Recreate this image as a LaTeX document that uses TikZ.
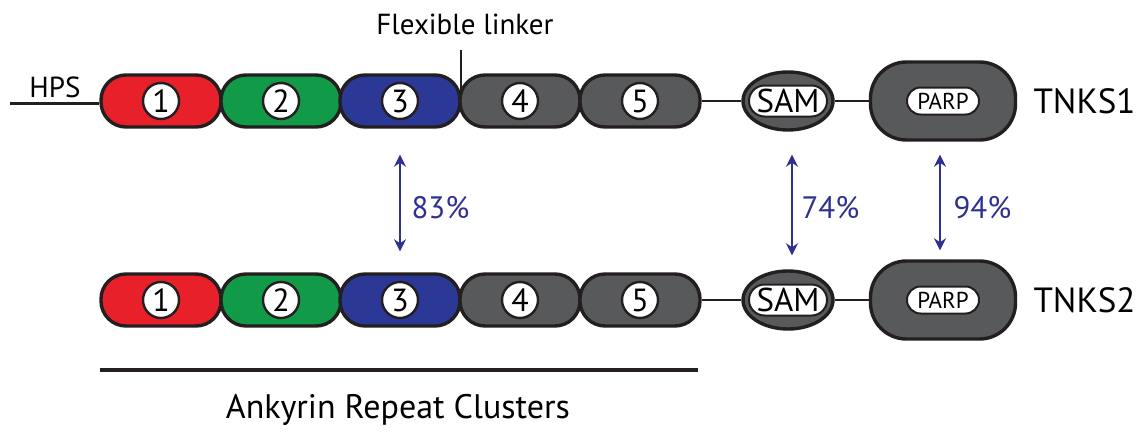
\documentclass[tikz,border=0pt]{standalone}
\usepackage{fontspec}
\setmainfont{PT Sans}
\usetikzlibrary{shapes.geometric,shapes.misc,arrows.meta}
\definecolor{cRed}{HTML}{E8202A}
\definecolor{cGreen}{HTML}{119A48}
\definecolor{cBlue}{HTML}{2B3896}
\definecolor{cGray}{HTML}{58595B}
\definecolor{cLine}{HTML}{231F20}
\definecolor{cArrow}{HTML}{2E3192}
\tikzset{
  x=1pt,y=-1pt,
  pill/.style={draw=cLine,line width=3.4pt,rounded corners=25pt,minimum width=120pt,minimum height=52pt,inner sep=0pt},
  num/.style={circle,draw=cLine,line width=2.4pt,fill=white,minimum size=36pt,inner sep=0pt,font=\fontsize{32}{32}\selectfont},
  sam/.style={ellipse,draw=cLine,line width=3.4pt,fill=cGray,minimum width=90pt,minimum height=58pt,inner sep=0pt},
  saminner/.style={rounded rectangle,draw=cLine,line width=2pt,fill=white,minimum width=78pt,minimum height=31pt,inner sep=0pt,font=\fontsize{33}{33}\selectfont},
  parp/.style={draw=cLine,line width=3.4pt,fill=cGray,rounded corners=36pt,minimum width=145pt,minimum height=78pt,inner sep=0pt},
  parpinner/.style={rounded rectangle,draw=cLine,line width=2pt,fill=white,minimum width=72pt,minimum height=27pt,inner sep=0pt,font=\fontsize{23}{23}\selectfont},
  link/.style={draw=cLine,line width=2.4pt},
  arr/.style={draw=cArrow,line width=2.2pt,{Stealth[length=12pt,width=12pt]}-{Stealth[length=12pt,width=12pt]}},
  pct/.style={text=cArrow,font=\fontsize{31}{31}\selectfont,anchor=west},
  lab/.style={font=\fontsize{35}{35}\selectfont,anchor=west},
}
\begin{document}
\begin{tikzpicture}
\useasboundingbox (0,0) rectangle (1148,434);
% top row
\node[pill,fill=cRed]   (a1) at (161,101) {};
\node[pill,fill=cGreen] (a2) at (281,101) {};
\node[pill,fill=cBlue]  (a3) at (400,101) {};
\node[pill,fill=cGray]  (a4) at (520,101) {};
\node[pill,fill=cGray]  (a5) at (640,101) {};
\node[num] (n1) at (a1) {1};
\node[num] (n2) at (a2) {2};
\node[num] (n3) at (a3) {3};
\node[num] (n4) at (a4) {4};
\node[num] (n5) at (a5) {5};
\node[sam] (s1) at (788,101) {};
\node[saminner] (si1) at (s1) {SAM};
\node[parp] (p1) at (943,101) {};
\node[parpinner] (pi1) at (p1) {PARP};
\draw[link] (a5.east) -- (s1.west);
\draw[link] (s1.east) -- (p1.west);
\node[lab] (t1) at (1030,101) {TNKS1};
% HPS
\coordinate (hps0) at (10,103);
\draw[line width=3pt,cLine] (hps0) -- (a1.west |- hps0);
\node[font=\fontsize{29}{29}\selectfont] (hps) at (55,87) {HPS};
% flexible linker
\node[font=\fontsize{29}{29}\selectfont] (flex) at (465,24) {Flexible linker};
\coordinate (fl0) at (461,50);
\coordinate (fl1) at (461,97);
\draw[line width=2.6pt,cLine] (fl0) -- (fl1);
% bottom row
\node[pill,fill=cRed]   (b1) at (161,300) {};
\node[pill,fill=cGreen] (b2) at (281,300) {};
\node[pill,fill=cBlue]  (b3) at (400,300) {};
\node[pill,fill=cGray]  (b4) at (520,300) {};
\node[pill,fill=cGray]  (b5) at (640,300) {};
\node[num] (m1) at (b1) {1};
\node[num] (m2) at (b2) {2};
\node[num] (m3) at (b3) {3};
\node[num] (m4) at (b4) {4};
\node[num] (m5) at (b5) {5};
\node[sam] (s2) at (788,300) {};
\node[saminner] (si2) at (s2) {SAM};
\node[parp] (p2) at (943,300) {};
\node[parpinner] (pi2) at (p2) {PARP};
\draw[link] (b5.east) -- (s2.west);
\draw[link] (s2.east) -- (p2.west);
\node[lab] (t2) at (1030,300) {TNKS2};
% arrows
\draw[arr,shorten <=26pt,shorten >=21pt] (a3.south) -- (b3.north);
\node[pct] (l1) at (408,208) {83\%};
\draw[arr,shorten <=23pt,shorten >=14pt] ([xshift=4pt]s1.south) -- ([xshift=4pt]s2.north);
\node[pct] (l2) at (798,208) {74\%};
\draw[arr,shorten <=13pt,shorten >=9pt] ([xshift=-3pt]p1.south) -- ([xshift=-3pt]p2.north);
\node[pct] (l3) at (950,208) {94\%};
% ankyrin
\coordinate (ak0) at (100,370);
\coordinate (ak1) at (698,370);
\draw[line width=3.4pt,cLine] (ak0) -- (ak1);
\node[font=\fontsize{34}{34}\selectfont] (ak) at (398,410) {Ankyrin Repeat Clusters};
\end{tikzpicture}
\end{document}
